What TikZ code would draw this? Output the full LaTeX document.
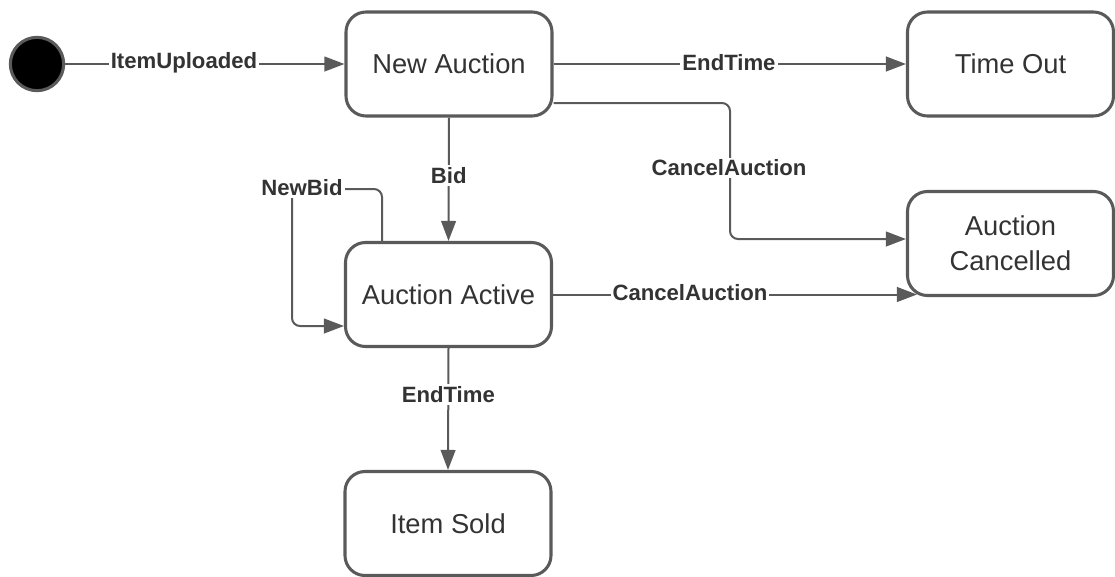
\documentclass[tikz,border=0pt]{standalone}
\usepackage{fontspec}
\setmainfont{Liberation Sans}
\usetikzlibrary{arrows.meta,calc}
\definecolor{edgegray}{HTML}{5A5A5A}
\definecolor{ink}{HTML}{333333}
\begin{document}
\begin{tikzpicture}[x=0.75pt,y=-0.75pt,
  state/.style={draw=edgegray, line width=2.3pt, rounded corners=15pt,
    minimum width=154.5pt, minimum height=78pt, align=center, text=ink,
    font=\fontsize{20.5}{26}\selectfont, inner sep=0pt},
  initial/.style={circle, draw=edgegray, fill=black, line width=2.3pt,
    minimum size=40pt, inner sep=0pt},
  trans/.style={draw=edgegray, line width=1.5pt,
    -{Triangle[length=15pt,width=11pt]}},
  lbl/.style={fill=white, text=ink, inner sep=1.5pt,
    font=\bfseries\fontsize{16.6}{20}\selectfont}]
\useasboundingbox (0,0) rectangle (1115,576);

% states
\node[initial] (start) at (37,64) {};
\node[state] (new)    at (449,64)      {New Auction};
\node[state] (timeout) at (1010.5,64)  {Time Out};
\node[state] (cancel) at (1010.5,243.5) {Auction\\Cancelled};
\node[state] (active) at (448.5,294.5) {Auction Active};
\node[state] (sold)   at (448,523.5)   {Item Sold};

% helper coordinates for routed connectors
\coordinate (cA) at (730,103);
\coordinate (cB) at (730,239);
\coordinate (nbA) at (382,189);
\coordinate (nbB) at (292,189);
\coordinate (nbC) at (292,326);

% transitions
\draw[trans] (start) -- (new);
\node[lbl] at (184,63) {ItemUploaded};

\draw[trans] (new.east) -- (timeout.west);
\node[lbl] at (729,63) {EndTime};

\draw[trans, rounded corners=6pt] (new.east |- cA) -- (cA) -- (cB) -- (cancel.west |- cB);
\node[lbl] at (729,168) {CancelAuction};

\draw[trans] (new.south) -- node[lbl, pos=0.47] {Bid} (active.north);

\draw[trans, rounded corners=6pt] (active.north -| nbA) -- (nbA) -- (nbB) -- (nbC) -- (active.west |- nbC);
\node[lbl] at (302,188) {NewBid};

\draw[trans] (active.east) -- ($(cancel.south west |- active.east)+(11,0)$);
\node[lbl] at (690,293) {CancelAuction};

\draw[trans] (active.south) -- node[lbl, pos=0.38] {EndTime} (sold.north);
\end{tikzpicture}
\end{document}
